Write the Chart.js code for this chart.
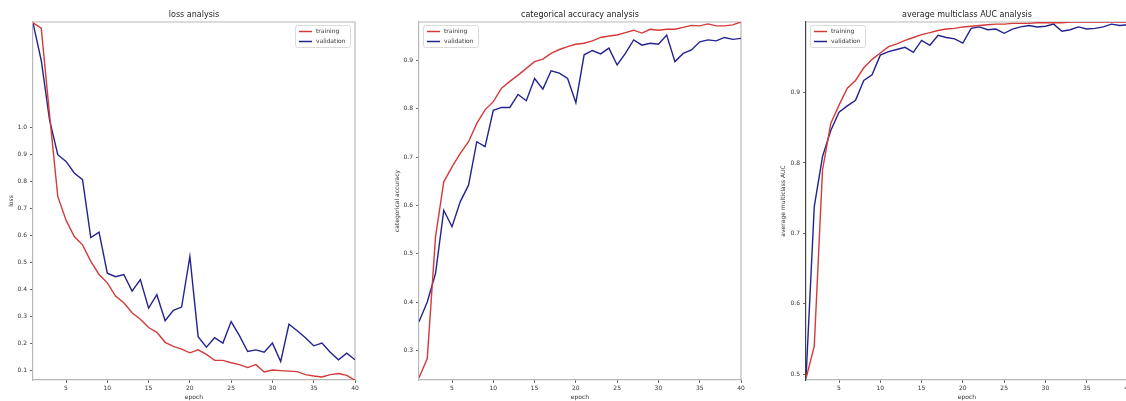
<!DOCTYPE html>
<html>
<head>
<meta charset="utf-8">
<script src="https://cdn.jsdelivr.net/npm/chart.js@4/dist/chart.umd.min.js"></script>
<style>
  html, body { margin: 0; padding: 0; background: #fff; overflow: hidden; }
  body { width: 1126px; height: 401px; position: relative; }
  canvas { position: absolute; top: 0; }
</style>
</head>
<body>
<canvas id="lossChart" width="365" height="401" style="left:0px"></canvas>
<canvas id="accChart" width="375" height="401" style="left:375px"></canvas>
<canvas id="aucChart" width="386" height="401" style="left:750px"></canvas>
<script>
// epochs on the x axis
const epochs = [1, 2, 3, 4, 5, 6, 7, 8, 9, 10, 11, 12, 13, 14, 15, 16, 17, 18, 19, 20,
  21, 22, 23, 24, 25, 26, 27, 28, 29, 30, 31, 32, 33, 34, 35, 36, 37, 38, 39, 40];
const epochTicks = [5, 10, 15, 20, 25, 30, 35, 40];

// loss
const lossTrain = [1.39, 1.37, 1.05, 0.745, 0.657, 0.596, 0.565, 0.504, 0.455, 0.424,
  0.375, 0.35, 0.313, 0.289, 0.258, 0.24, 0.203, 0.188, 0.178, 0.164,
  0.175, 0.158, 0.136, 0.136, 0.127, 0.12, 0.109, 0.12, 0.093, 0.10,
  0.098, 0.096, 0.094, 0.083, 0.078, 0.074, 0.083, 0.087, 0.08, 0.062];
const lossVal = [1.39, 1.25, 1.03, 0.90, 0.875, 0.832, 0.807, 0.592, 0.612, 0.46,
  0.447, 0.455, 0.393, 0.436, 0.33, 0.38, 0.283, 0.322, 0.334, 0.522,
  0.224, 0.185, 0.22, 0.2, 0.28, 0.228, 0.169, 0.175, 0.166, 0.2,
  0.132, 0.27, 0.246, 0.22, 0.19, 0.2, 0.166, 0.138, 0.163, 0.138];
const lossTicks = [0.1, 0.2, 0.3, 0.4, 0.5, 0.6, 0.7, 0.8, 0.9, 1.0];

// categorical accuracy
const accTrain = [0.243, 0.283, 0.535, 0.649, 0.68, 0.708, 0.732, 0.77, 0.798, 0.815,
  0.843, 0.857, 0.87, 0.884, 0.898, 0.903, 0.915, 0.923, 0.929, 0.934,
  0.936, 0.941, 0.948, 0.951, 0.953, 0.958, 0.963, 0.957, 0.965, 0.963,
  0.965, 0.965, 0.969, 0.973, 0.972, 0.976, 0.972, 0.972, 0.974, 0.98];
const accVal = [0.359, 0.40, 0.459, 0.59, 0.556, 0.608, 0.642, 0.732, 0.722, 0.797,
  0.803, 0.803, 0.83, 0.817, 0.863, 0.841, 0.879, 0.874, 0.863, 0.813,
  0.912, 0.921, 0.914, 0.926, 0.891, 0.915, 0.943, 0.932, 0.936, 0.934,
  0.953, 0.898, 0.915, 0.922, 0.939, 0.943, 0.941, 0.948, 0.944, 0.946];
const accTicks = [0.3, 0.4, 0.5, 0.6, 0.7, 0.8, 0.9];

// average multiclass AUC
const aucTrain = [0.494, 0.54, 0.79, 0.856, 0.882, 0.906, 0.917, 0.935, 0.947, 0.956,
  0.965, 0.969, 0.974, 0.978, 0.982, 0.985, 0.988, 0.99, 0.991, 0.993,
  0.994, 0.995, 0.996, 0.997, 0.997, 0.998, 0.998, 0.998, 0.999, 0.999,
  0.999, 0.999, 1.0, 1.0, 1.0, 1.0, 1.0, 1.0, 1.0, 1.0];
const aucVal = [0.494, 0.738, 0.809, 0.846, 0.872, 0.881, 0.889, 0.917, 0.925, 0.953,
  0.958, 0.961, 0.964, 0.957, 0.974, 0.967, 0.981, 0.978, 0.976, 0.97,
  0.991, 0.993, 0.989, 0.99, 0.984, 0.99, 0.993, 0.995, 0.993, 0.994,
  0.997, 0.987, 0.989, 0.993, 0.99, 0.991, 0.993, 0.997, 0.995, 0.996];
const aucTicks = [0.5, 0.6, 0.7, 0.8, 0.9];

const seriesNames = ["training", "validation"];

const RED = "#d43a3a";
const BLUE = "#232390";
const FONT = "'DejaVu Sans', sans-serif";

// matplotlib-like frame on top and right of the plot area
const frame = {
  id: "frame",
  beforeDatasetsDraw(chart) {
    const { ctx, chartArea } = chart;
    ctx.save();
    ctx.strokeStyle = "#b8b8b8";
    ctx.lineWidth = 1.2;
    ctx.beginPath();
    ctx.moveTo(chartArea.left, chartArea.top);
    ctx.lineTo(chartArea.right, chartArea.top);
    ctx.lineTo(chartArea.right, chartArea.bottom);
    ctx.stroke();
    ctx.restore();
  }
};

// axes title, centred over the plot area like matplotlib does
const axesTitle = {
  id: "axesTitle",
  afterDraw(chart, args, opts) {
    const { ctx, chartArea } = chart;
    ctx.save();
    ctx.fillStyle = "#222";
    ctx.font = "8px " + FONT;
    ctx.textAlign = "center";
    ctx.textBaseline = "middle";
    ctx.fillText(opts.text, (chartArea.left + chartArea.right) / 2, 14.5);
    ctx.restore();
  }
};

// small legend box drawn inside the plot area
const legendBox = {
  id: "legendBox",
  afterDatasetsDraw(chart, args, opts) {
    const { ctx, chartArea } = chart;
    const w = 55, h = 22;
    const x = opts.align === "right" ? chartArea.right - w - 5 : chartArea.left + 4;
    const y = chartArea.top + 3;
    ctx.save();
    ctx.fillStyle = "rgba(255,255,255,0.9)";
    ctx.strokeStyle = "#dcdcdc";
    ctx.lineWidth = 1;
    ctx.beginPath();
    ctx.roundRect(x + 0.5, y + 0.5, w, h, 2);
    ctx.fill();
    ctx.stroke();
    chart.data.datasets.forEach((ds, i) => {
      const ly = y + 6.5 + i * 10;
      ctx.strokeStyle = ds.borderColor;
      ctx.lineWidth = 1.5;
      ctx.beginPath();
      ctx.moveTo(x + 4, ly);
      ctx.lineTo(x + 17, ly);
      ctx.stroke();
      ctx.fillStyle = "#333";
      ctx.font = "6px " + FONT;
      ctx.textBaseline = "middle";
      ctx.fillText(ds.label, x + 21, ly);
    });
    ctx.restore();
  }
};

function makeChart(id, title, yTitle, train, val, yMin, yMax, yTicks, opts) {
  const ctx = document.getElementById(id).getContext("2d");
  return new Chart(ctx, {
    type: "line",
    data: {
      labels: epochs,
      datasets: [
        {
          label: seriesNames[0],
          data: epochs.map((e, i) => ({ x: e, y: train[i] })),
          borderColor: RED,
          borderWidth: 1.4,
          pointRadius: 0,
          tension: 0,
          fill: false,
        },
        {
          label: seriesNames[1],
          data: epochs.map((e, i) => ({ x: e, y: val[i] })),
          borderColor: BLUE,
          borderWidth: 1.4,
          pointRadius: 0,
          tension: 0,
          fill: false,
        },
      ],
    },
    options: {
      responsive: false,
      animation: false,
      layout: { padding: { left: opts.padLeft, right: opts.padRight, top: 22, bottom: 0 } },
      scales: {
        x: {
          type: "linear",
          min: 1,
          max: 40,
          afterBuildTicks: (scale) => { scale.ticks = epochTicks.map(v => ({ value: v })); },
          afterFit: (scale) => { scale.height = 21; },
          grid: { drawOnChartArea: false, drawTicks: true, tickLength: 3, color: "#666" },
          border: { display: true, color: "#b8b8b8", width: 1.2 },
          ticks: { color: "#333", font: { family: FONT, size: 6 }, padding: 2, maxRotation: 0 },
          title: { display: true, text: "epoch", color: "#333", font: { family: FONT, size: 6 }, padding: { top: 0, bottom: 0 } },
        },
        y: {
          min: yMin,
          max: yMax,
          afterBuildTicks: (scale) => { scale.ticks = yTicks.map(v => ({ value: v })); },
          afterFit: (scale) => { scale.width = opts.yWidth; },
          grid: { drawOnChartArea: false, drawTicks: true, tickLength: 3, color: "#666" },
          border: { display: true, color: opts.leftSpine, width: 1.2 },
          ticks: { color: "#333", font: { family: FONT, size: 6 }, padding: 3, callback: (v) => v.toFixed(1) },
          title: { display: true, text: yTitle, color: "#333", font: { family: FONT, size: 6 }, padding: { top: 2.5, bottom: 0 } },
        },
      },
      plugins: {
        legend: { display: false },
        tooltip: { enabled: false },
        title: { display: false },
        axesTitle: { text: title },
        legendBox: { align: opts.legendAlign },
      },
    },
    plugins: [frame, legendBox, axesTitle],
  });
}

makeChart("lossChart", "loss analysis", "loss", lossTrain, lossVal, 0.063, 1.393, lossTicks,
  { padLeft: 5, padRight: 10, yWidth: 28, legendAlign: "right", leftSpine: "#b8b8b8" });
makeChart("accChart", "categorical accuracy analysis", "categorical accuracy", accTrain, accVal, 0.2385, 0.98, accTicks,
  { padLeft: 16, padRight: 9, yWidth: 28, legendAlign: "left", leftSpine: "#b8b8b8" });
makeChart("aucChart", "average multiclass AUC analysis", "average multiclass AUC", aucTrain, aucVal, 0.492, 1.0, aucTicks,
  { padLeft: 27, padRight: 8, yWidth: 29, legendAlign: "left", leftSpine: "#444" });
</script>
</body>
</html>
